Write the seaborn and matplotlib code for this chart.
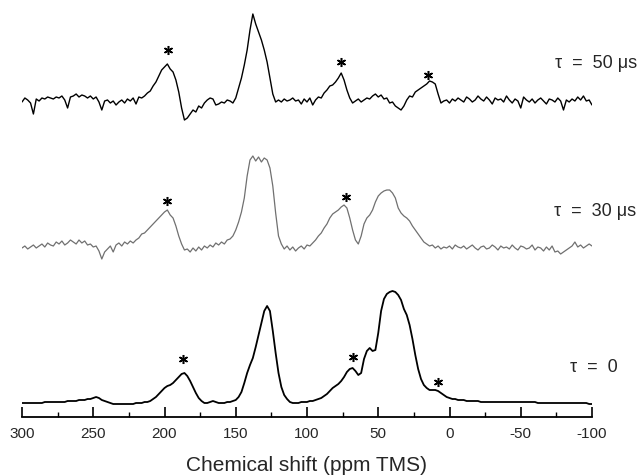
import numpy as np
import pandas as pd
import matplotlib
matplotlib.use("Agg")
import matplotlib.pyplot as plt
import seaborn as sns

# ---------------------------------------------------------------
# Spectra (intensity above each baseline),
# sampled every 2 ppm from 300 down to -100 ppm
# ---------------------------------------------------------------
TAU_50 = [
    -2, 2, 0, -3, -14, 1, -1, 2, 1, 3,            # 300..282
    2, 1, 3, 2, 4, 0, -8, 3, 4, 6,                # 280..262
    3, 5, 4, 2, 4, 1, 3, -2, -10, -1,             # 260..242
    0, -3, -1, -5, -2, 0, -3, 1, -1, 2,           # 240..222
    -4, 3, 2, 4, 7, 9, 14, 18, 24, 30,            # 220..202
    33, 36, 31, 28, 20, 8, -8, -20, -18, -14,     # 200..182
    -10, -12, -6, -8, -3, 0, 2, 1, -5, -4,        # 180..162
    -2, -3, 0, -1, -3, 2, 12, 22, 35, 50,         # 160..142
    70, 86, 76, 68, 60, 50, 38, 22, 6, -2,        # 140..122
    0, -2, 1, -1, 0, 2, -1, 0, -4, 1,             # 120..102
    -2, 2, -5, 0, 3, 2, 7, 10, 14, 15,            # 100..82
    18, 22, 27, 20, 10, 2, -3, -1, 1, -2,         # 80..62
    0, 2, 1, 4, 6, 3, 5, 1, 2, -3,                # 60..42
    -2, -6, -8, -10, -6, 0, 4, 3, 8, 10,          # 40..22
    12, 14, 16, 19, 18, 16, 6, -3, -1, 0,         # 20..2
    -3, 1, -1, 2, 0, -2, 3, 1, -2, 0,             # 0..-18
    4, 1, -1, 3, 0, -4, 2, 0, 1, -2,              # -20..-38
    4, 0, -3, 1, -1, -8, 3, 0, -2, 1,             # -40..-58
    -3, 0, 2, -1, -4, 1, 0, -2, 2, -1,            # -60..-78
    -10, 0, -2, 1, -1, 3, 0, 4, -1, 0,            # -80..-98
    -5,                                           # -100
]

TAU_30 = [
    0, 2, -1, 1, 3, 0, 2, 4, 1, 5,                # 300..282
    3, 2, 6, 4, 7, 3, 5, 8, 6, 4,                 # 280..262
    8, 5, 7, 3, 4, 1, 2, -3, -11, -4,             # 260..242
    -1, 2, -4, 3, 5, 2, 6, 4, 7, 5,               # 240..222
    8, 10, 14, 15, 18, 21, 24, 27, 30, 33,        # 220..202
    36, 38, 33, 30, 22, 12, 4, -2, -1, -4,        # 200..182
    0, -3, 1, -2, 2, 0, 3, 1, 5, 3,               # 180..162
    6, 4, 8, 9, 12, 18, 26, 36, 50, 72,           # 160..142
    88, 92, 87, 91, 86, 90, 88, 80, 62, 35,       # 140..122
    12, 4, -1, 2, -2, 1, -3, 0, 2, -1,            # 120..102
    3, 2, 5, 8, 12, 15, 20, 24, 30, 34,           # 100..82
    36, 38, 41, 43, 40, 30, 18, 8, 4, 12,         # 80..62
    24, 30, 33, 38, 46, 52, 55, 57, 58, 58,       # 60..42
    55, 50, 40, 35, 32, 30, 27, 22, 18, 14,       # 40..22
    10, 6, 4, 2, 3, 0, 2, -1, 1, 0,               # 20..2
    2, -1, 3, 1, 0, 2, -1, 1, 3, 0,               # 0..-18
    -2, 1, 2, -1, 0, 3, 1, -2, 2, 0,              # -20..-38
    1, -1, 3, 0, -2, 2, 1, -1, 0, 3,              # -40..-58
    -2, 1, 0, -3, 1, -2, 2, -4, -3, -6,           # -60..-78
    -4, -2, 0, 2, 6, 1, 3, 0, 2, 4,               # -80..-98
    2,                                            # -100
]

TAU_0 = [
    0, 0, 0, 0, 0, 0, 0, 0, 1, 1,                 # 300..282
    1, 1, 1, 1, 1, 1, 2, 2, 2, 2,                 # 280..262
    3, 3, 3, 4, 4, 5, 6, 5, 3, 2,                 # 260..242
    1, 0, -1, -1, -1, -1, -1, -1, -1, -1,         # 240..222
    0, 0, 0, 1, 1, 2, 4, 6, 9, 12,                # 220..202
    15, 17, 18, 20, 23, 26, 29, 30, 27, 22,       # 200..182
    16, 10, 5, 2, 0, 0, 1, 2, 1, 0,               # 180..162
    0, 0, 1, 1, 2, 3, 6, 11, 20, 30,              # 160..142
    38, 45, 56, 68, 80, 92, 97, 92, 72, 50,       # 140..122
    30, 16, 8, 4, 1, 0, 0, 0, 1, 1,               # 120..102
    1, 2, 2, 3, 4, 5, 7, 9, 12, 15,               # 100..82
    17, 19, 22, 26, 31, 34, 35, 32, 28, 30,       # 80..62
    44, 52, 55, 52, 53, 70, 92, 104, 109, 111,    # 60..42
    112, 111, 108, 103, 94, 88, 78, 64, 48, 34,   # 40..22
    24, 18, 15, 13, 13, 13, 12, 10, 8, 6,         # 20..2
    5, 4, 4, 3, 3, 3, 2, 2, 2, 2,                 # 0..-18
    2, 1, 1, 1, 1, 1, 1, 1, 1, 1,                 # -20..-38
    1, 1, 1, 1, 1, 1, 1, 1, 1, 1,                 # -40..-58
    1, 0, 0, 0, 0, 0, 0, 0, 0, 0,                 # -60..-78
    0, 0, 0, 0, 0, 0, 0, 0, 0, -1,                # -80..-98
    -1,                                           # -100
]

# spinning side band markers (ppm, height above baseline)
STARS_50_PPM = [197.5, 76, 15]
STARS_50_Y = [50, 38, 25]
STARS_30_PPM = [198, 72.6]
STARS_30_Y = [47, 51]
STARS_0_PPM = [187, 68, 8]
STARS_0_Y = [44, 46, 21]

LABELS = ["\u03c4  =  50 \u03bcs", "\u03c4  =  30 \u03bcs", "\u03c4  =  0"]

# vertical stacking of the three traces
OFFSETS = [317, 169, 14]
LABEL_Y = [354, 205, 50]
LABEL_X = [-74, -73, -84.5]

sns.set_theme(style="white")
plt.rcParams["font.family"] = ["Liberation Sans", "DejaVu Sans"]

fig = plt.figure(figsize=(6.4, 4.76), dpi=100)
ax = fig.add_axes([22 / 640, 59 / 476, 570 / 640, 417 / 476])

traces = [
    (TAU_50, STARS_50_PPM, STARS_50_Y, "black", 1.0),
    (TAU_30, STARS_30_PPM, STARS_30_Y, "#707070", 0.9),
    (TAU_0, STARS_0_PPM, STARS_0_Y, "black", 1.3),
]

for i, (vals, s_ppm, s_y, color, lw) in enumerate(traces):
    ppm = np.linspace(300, -100, len(vals))
    df = pd.DataFrame({"ppm": ppm, "signal": np.array(vals) + OFFSETS[i]})
    sns.lineplot(data=df, x="ppm", y="signal", ax=ax, color=color,
                 linewidth=lw, sort=False, estimator=None)
    ax.plot(s_ppm, np.array(s_y) + OFFSETS[i], linestyle="none",
            marker=(6, 2, 0), markersize=6.5, markeredgewidth=1.1,
            color="black")
    ax.text(LABEL_X[i], LABEL_Y[i], LABELS[i], fontsize=13,
            ha="left", va="center", clip_on=False)

ax.set_xlim(300, -100)
ax.set_ylim(0, 417)
ax.set_yticks([])
ax.set_ylabel("")
for side in ["top", "left", "right"]:
    ax.spines[side].set_visible(False)
ax.spines["bottom"].set_linewidth(1.3)
ax.spines["bottom"].set_color("black")

ax.set_xticks(np.arange(300, -101, -50))
ax.set_xticks(np.arange(275, -100, -50), minor=True)
ax.set_xticklabels([str(v) for v in np.arange(300, -101, -50)])
ax.tick_params(axis="x", which="major", direction="in", length=7,
               width=1.2, color="black", pad=7, labelsize=11, bottom=True)
ax.tick_params(axis="x", which="minor", direction="in", length=3.5,
               width=1.0, color="black", bottom=True)
ax.set_xlabel("Chemical shift (ppm TMS)", fontsize=15, labelpad=11)

plt.savefig("out.png", dpi=100)
